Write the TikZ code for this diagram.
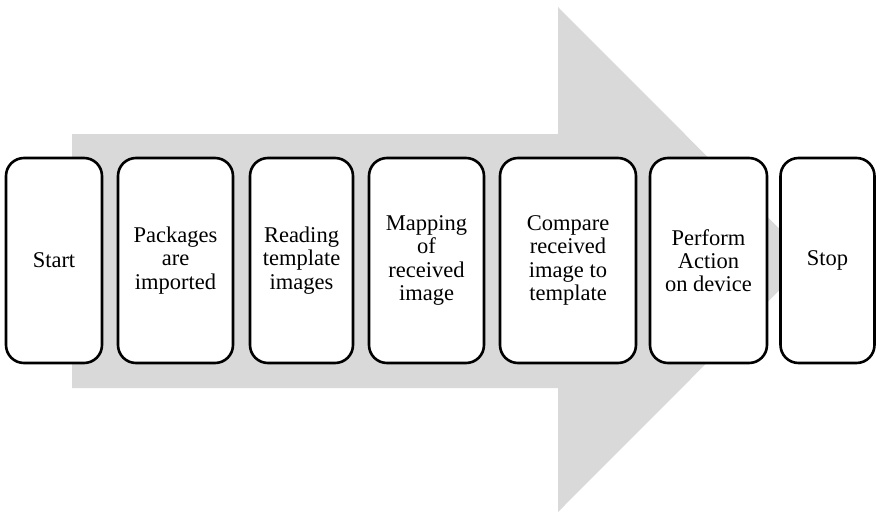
\documentclass[tikz,border=0pt]{standalone}
\usepackage{fontspec}
\setmainfont{Liberation Serif}
\begin{document}
\begin{tikzpicture}[x=1pt,y=-1pt,
  stepbox/.style={draw=black, line width=2.6pt, fill=white, rounded corners=18pt,
    minimum height=205pt, inner sep=0pt, align=center,
    font=\fontsize{22.5}{23.3}\selectfont},
  flowarrow/.style={fill=gray!30!white, draw=none}]
\useasboundingbox (0,0) rectangle (876,512);
% big background arrow
\fill[flowarrow] (72,134) -- (558,134) -- (558,7) -- (810,259.5) -- (558,512)
  -- (558,388) -- (72,388) -- cycle;
% process steps
\node[stepbox, minimum width=96pt]  (start)   at (54,260.5)    {Start};
\node[stepbox, minimum width=115pt] (pkg)     at (175.5,260.5) {Packages\\are\\imported};
\node[stepbox, minimum width=103pt] (read)    at (301.5,260.5) {Reading\\template\\images};
\node[stepbox, minimum width=115pt] (map)     at (426.5,260.5) {Mapping\\of\\received\\image};
\node[stepbox, minimum width=136pt] (cmp)     at (568,260.5)   {Compare\\received\\image to\\template};
\node[stepbox, minimum width=117pt] (act)     at (708.5,260.5) {Perform\\Action\\on device};
\node[stepbox, minimum width=94pt]  (stop)    at (827.5,260.5) {Stop};
\end{tikzpicture}
\end{document}
